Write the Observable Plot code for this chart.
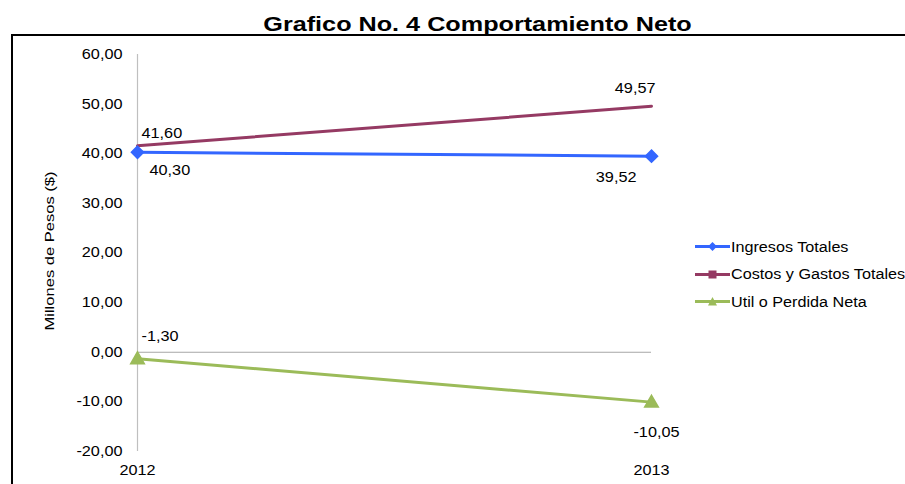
<!DOCTYPE html>
<html><head><meta charset="utf-8">
<script src="https://cdn.jsdelivr.net/npm/d3@7"></script>
<script src="https://cdn.jsdelivr.net/npm/@observablehq/plot@0.6"></script>
<style>
body{margin:0;background:#fff;font-family:"Liberation Sans",Arial,sans-serif;}
#wrap{position:relative;width:905px;height:484px;overflow:hidden;}
#title{position:absolute;left:0;top:13px;width:905px;height:21px;line-height:21px;text-align:center;}
#title span{display:inline-block;font-weight:bold;font-size:21px;color:#000;transform:scaleX(1.2);transform-origin:center;position:relative;left:25px;white-space:nowrap;}
#box{position:absolute;left:11px;top:34px;width:1000px;height:1000px;border:2px solid #000;box-sizing:border-box;}
#chart{position:absolute;left:0;top:35px;}
#legend{position:absolute;left:695px;top:233px;font-size:14px;color:#000;}
.row{height:27.5px;display:flex;align-items:center;white-space:nowrap;}
.row svg{margin-right:1px;flex:none;}
.row span{display:inline-block;transform:scaleX(1.155);transform-origin:left center;}
</style></head>
<body><div id="wrap"><div id="box"></div><div id="title"><span>Grafico No. 4 Comportamiento Neto</span></div><div id="chart"></div><div id="legend"></div></div>
<script>
const years = [2012, 2013];
const seriesNames = ["Ingresos Totales", "Costos y Gastos Totales", "Util o Perdida Neta"];
const ingresos = [40.30, 39.52];
const costos = [41.60, 49.57];
const util = [-1.30, -10.05];
const yTicks = [60, 50, 40, 30, 20, 10, 0, -10, -20];
const yLabel = "Millones de Pesos ($)";
const colors = ["#3366ff", "#953a63", "#9bbb59"];

const fmt = v => v.toFixed(2).replace(".", ",");
const rows = [];
[ingresos, costos, util].forEach((arr, s) => arr.forEach((v, i) => rows.push({series: seriesNames[s], year: years[i], value: v, idx: i})));
const bySeries = s => rows.filter(d => d.series === seriesNames[s]);
const pick = (s, i) => rows.filter(d => d.series === seriesNames[s] && d.idx === i);

const labelOpts = {x: "year", y: "value", text: d => fmt(d.value), fontSize: 14, fill: "#000"};

const plot = Plot.plot({
  width: 905, height: 449,
  marginTop: 19, marginBottom: 33, marginLeft: 137, marginRight: 254,
  style: {fontFamily: "'Liberation Sans', Arial, sans-serif", fontSize: "14px", color: "#000", background: "transparent"},
  x: {type: "point", domain: years, range: [137, 651], padding: 0},
  y: {domain: [-20, 60], range: [416, 19]},
  marks: [
    Plot.ruleY([0], {x1: years[0], x2: years[1], stroke: "#a6a6a6", strokeWidth: 1}),
    Plot.ruleX([years[0]], {y1: -20, y2: 60, stroke: "#bfbfbf", strokeWidth: 1.2}),
    Plot.axisY({ticks: yTicks, tickFormat: fmt, tickSize: 0, tickPadding: 15, fontSize: 14, label: null}),
    Plot.axisX({ticks: years, tickFormat: d => String(d), tickSize: 0, tickPadding: 14, fontSize: 14, label: null}),
    Plot.text([yLabel], {frameAnchor: "left", textAnchor: "middle", rotate: -90, dx: -88, dy: -2, fontSize: 13.5, fill: "#000"}),
    Plot.line(bySeries(0), {x: "year", y: "value", stroke: colors[0], strokeWidth: 3}),
    Plot.line(bySeries(1), {x: "year", y: "value", stroke: colors[1], strokeWidth: 3}),
    Plot.line(bySeries(2), {x: "year", y: "value", stroke: colors[2], strokeWidth: 3}),
    Plot.dot(bySeries(0), {x: "year", y: "value", symbol: "diamond2", r: 5.5, fill: colors[0], stroke: colors[0]}),
    Plot.dot(bySeries(2), {x: "year", y: "value", symbol: "triangle2", r: 6.5, fill: colors[2], stroke: colors[2], dy: 1}),
    Plot.text(pick(1, 0), {...labelOpts, textAnchor: "start", dx: 4, dy: -12}),
    Plot.text(pick(0, 0), {...labelOpts, textAnchor: "start", dx: 12, dy: 18}),
    Plot.text(pick(1, 1), {...labelOpts, textAnchor: "end", dx: 4, dy: -18}),
    Plot.text(pick(0, 1), {...labelOpts, textAnchor: "end", dx: -15, dy: 21}),
    Plot.text(pick(2, 0), {...labelOpts, textAnchor: "start", dx: 4, dy: -22}),
    Plot.text(pick(2, 1), {...labelOpts, textAnchor: "middle", dx: 5, dy: 30})
  ]
});
document.getElementById("chart").appendChild(plot);

// widen glyphs horizontally, as in the reference rendering
plot.querySelectorAll("text").forEach(t => {
  const len = t.getComputedTextLength();
  if (!len) return;
  const target = t.textContent === yLabel ? 159 : len * 1.16;
  t.setAttribute("textLength", target.toFixed(1));
  t.setAttribute("lengthAdjust", "spacingAndGlyphs");
});

const symbols = [
  '<polygon points="17.5,2 22,6.5 17.5,11 13,6.5"/>',
  '<rect x="13.5" y="2.5" width="8" height="8"/>',
  '<polygon points="17.5,2 22,10.5 13,10.5"/>'
];
const legend = d3.select("#legend");
seriesNames.forEach((name, i) => {
  const row = legend.append("div").attr("class", "row");
  row.append("svg").attr("width", 35).attr("height", 13)
    .html(`<line x1="0" x2="35" y1="6.5" y2="6.5" stroke="${colors[i]}" stroke-width="3"/><g fill="${colors[i]}">${symbols[i]}</g>`);
  row.append("span").text(name);
});
</script>
</body></html>
